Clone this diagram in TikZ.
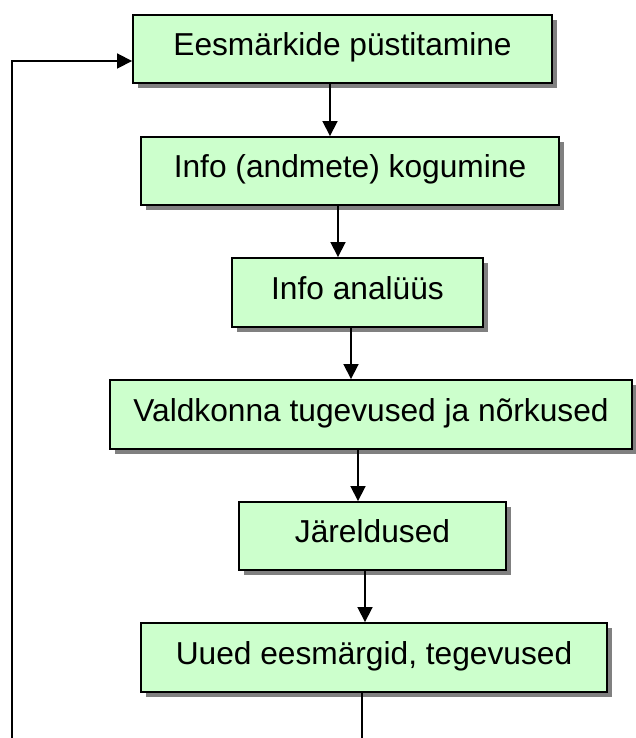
\documentclass[tikz,border=0pt]{standalone}
\usepackage{fontspec}
\setmainfont{Liberation Sans}
\usetikzlibrary{arrows.meta,shadows}
\definecolor{boxfill}{HTML}{CCFFCC}
\definecolor{shadowgray}{HTML}{808080}
\begin{document}
\begin{tikzpicture}[x=1pt,y=-1pt,
  stepbox/.style={draw=black, line width=1.9pt, fill=boxfill, rectangle,
    inner sep=0pt, text height=25pt, text depth=12pt,
    font=\fontsize{31.7pt}{38pt}\selectfont,
    drop shadow={shadow xshift=5pt, shadow yshift=-5pt, fill=shadowgray, opacity=1}},
  link/.style={line width=1.8pt, draw=black},
  arr/.style={link, -{Triangle[length=15pt,width=15pt]}}]
\useasboundingbox (0,0) rectangle (635,738);
\node[stepbox, minimum width=419pt, minimum height=68pt] (b1) at (342.5,49) {Eesmärkide püstitamine};
\node[stepbox, minimum width=418pt, minimum height=68pt] (b2) at (350,171) {Info (andmete) kogumine};
\node[stepbox, minimum width=251pt, minimum height=69pt] (b3) at (357.5,292.5) {Info analüüs};
\node[stepbox, minimum width=522pt, minimum height=69pt] (b4) at (371,414.5) {Valdkonna tugevused ja nõrkused};
\node[stepbox, minimum width=267pt, minimum height=68pt] (b5) at (372.5,536) {Järeldused};
\node[stepbox, minimum width=466pt, minimum height=69pt] (b6) at (374,657.5) {Uued eesmärgid, tegevused};
\draw[arr] (b1.south -| 330,0) -- (b2.north -| 330,0);
\draw[arr] (b2.south -| 338,0) -- (b3.north -| 338,0);
\draw[arr] (b3.south -| 351,0) -- (b4.north -| 351,0);
\draw[arr] (b4.south -| 358,0) -- (b5.north -| 358,0);
\draw[arr] (b5.south -| 365,0) -- (b6.north -| 365,0);
\coordinate (eb) at (362,740);
\draw[link] (b6.south -| eb) -- (eb);
\coordinate (lb) at (12,740);
\draw[arr] (lb) |- ([yshift=-12pt]b1.west);
\end{tikzpicture}
\end{document}
